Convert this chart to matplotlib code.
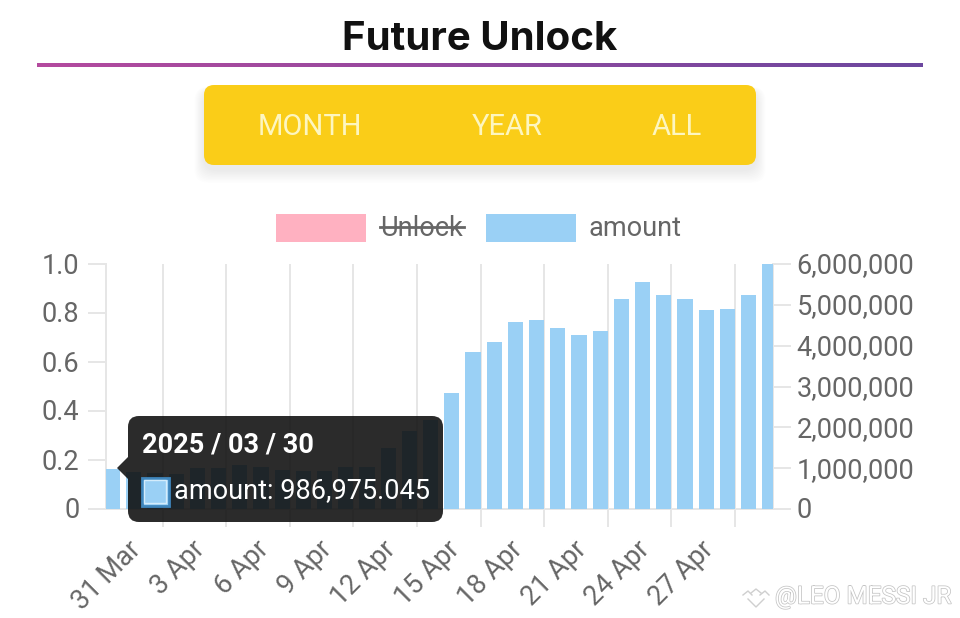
import numpy as np
import matplotlib
matplotlib.use('Agg')
import matplotlib.pyplot as plt
import matplotlib.patheffects as pe
from matplotlib.patches import FancyBboxPatch, Rectangle, Polygon
from matplotlib.transforms import ScaledTranslation

plt.rcParams['font.family'] = ['Roboto', 'DejaVu Sans']

# values
amount = [986975.045, 900000, 880000, 860000, 1010000, 1010000, 1070000, 1020000,
          960000, 940000, 940000, 1020000, 1040000, 1500000, 1910000, 2190000,
          2850000, 3850000, 4100000, 4570000, 4630000, 4440000, 4250000, 4350000,
          5140000, 5560000, 5250000, 5150000, 4870000, 4900000, 5250000, 6000000]
date_labels = ['31 Mar', '3 Apr', '6 Apr', '9 Apr', '12 Apr', '15 Apr', '18 Apr',
               '21 Apr', '24 Apr', '27 Apr']
left_ticks = [0, 0.2, 0.4, 0.6, 0.8, 1.0]
left_labels = ['0', '0.2', '0.4', '0.6', '0.8', '1.0']
right_ticks = [0, 1000000, 2000000, 3000000, 4000000, 5000000, 6000000]
buttons = ['MONTH', 'YEAR', 'ALL']

W, H = 960, 618
GRID = '#e6e6e6'
TEXT = '#666666'
BLUE = '#9AD0F5'
PINK = '#FFB1C1'
LABEL_SIZE = 19.5

fig = plt.figure(figsize=(W / 100, H / 100), dpi=100, facecolor='white')

# chart area
ax = fig.add_axes([106 / W, 1 - 509 / H, 667 / W, 245 / H])
ax2 = ax.twinx()
ax.set_zorder(1)
ax2.set_zorder(2)

x = np.arange(len(amount))
ax2.bar(x, amount, width=0.71, color=BLUE, zorder=3)
ax2.set_ylim(0, 6000000)
ax2.set_yticks(right_ticks)
ax2.set_yticklabels([f'{v:,}' for v in right_ticks])
ax2.tick_params(axis='y', length=13, width=1.4, color=GRID, labelcolor=TEXT,
                labelsize=LABEL_SIZE, pad=4)

ax.set_xlim(-0.31, 31.15)
ax.set_ylim(0, 1)
ax.set_yticks(left_ticks)
ax.set_yticklabels(left_labels)
ax.tick_params(axis='y', length=13, width=1.4, color=GRID, labelcolor=TEXT,
               labelsize=LABEL_SIZE, pad=6)

# gridlines sit on the right edge of every third bar
ticks = np.arange(len(date_labels)) * 3 + 2.36
ax.set_xticks(ticks)
ax.set_xticklabels(date_labels, rotation=45, ha='right', va='top', rotation_mode='anchor')
ax.tick_params(axis='x', length=13, width=1.4, color=GRID, labelcolor=TEXT,
               labelsize=LABEL_SIZE, pad=2)
ax.grid(axis='x', color=GRID, linewidth=1.4)
ax.set_axisbelow(True)
shift = ScaledTranslation(-35 / 100, -6 / 100, fig.dpi_scale_trans)
for lab in ax.get_xticklabels():
    lab.set_transform(lab.get_transform() + shift)
up = ScaledTranslation(0, 1 / 100, fig.dpi_scale_trans)
for lab in ax.get_yticklabels() + ax2.get_yticklabels():
    lab.set_transform(lab.get_transform() + up)

for a in (ax, ax2):
    a.spines['top'].set_visible(False)
    for name in ('left', 'right', 'bottom'):
        a.spines[name].set_color(GRID)
        a.spines[name].set_linewidth(1.4)

# everything around the chart, in pixel coordinates
over = fig.add_axes([0, 0, 1, 1], zorder=5)
over.set_xlim(0, W)
over.set_ylim(H, 0)
over.axis('off')

over.text(480, 39, 'Future Unlock', ha='center', va='center', fontsize=29,
          fontweight='bold', color='#111111', family=['Inter', 'DejaVu Sans'])

# title rule with the purple gradient
grad = np.linspace(0, 1, 256).reshape(1, -1)
cmap = matplotlib.colors.LinearSegmentedColormap.from_list('rule', ['#b44a9e', '#6c479f'])
over.imshow(grad, extent=(37, 923, 67.5, 64), cmap=cmap, aspect='auto', zorder=2)
over.set_xlim(0, W)
over.set_ylim(H, 0)

# button bar and its soft shadow
for i in range(10):
    grow = 16 - i * 1.6
    over.add_patch(FancyBboxPatch((204 - grow * 0.6, 90 - grow * 0.2), 552 + grow * 1.2, 80 + grow,
                                  boxstyle='round,pad=0,rounding_size=14',
                                  fc='black', ec='none', alpha=0.006, zorder=2))
over.add_patch(FancyBboxPatch((204, 85), 552, 80, boxstyle='round,pad=0,rounding_size=10',
                              fc='#FACD18', ec='none', zorder=3))
for name, cx in zip(buttons, [310, 507, 677]):
    over.text(cx, 127, name, ha='center', va='center', fontsize=21, color='#FDF6C0', zorder=4)

# legend
over.add_patch(Rectangle((276, 214), 90, 28, fc=PINK, ec='none'))
over.text(380, 228, 'Unlock', ha='left', va='center', fontsize=LABEL_SIZE, color=TEXT)
over.plot([380, 464], [227, 227], color=TEXT, lw=2)
over.add_patch(Rectangle((486, 214), 90, 28, fc=BLUE, ec='none'))
over.text(589, 228, 'amount', ha='left', va='center', fontsize=LABEL_SIZE, color=TEXT)

# tooltip
tip_color = (0.05, 0.05, 0.05, 0.88)
over.add_patch(FancyBboxPatch((128, 416), 315, 106, boxstyle='round,pad=0,rounding_size=11',
                              fc=tip_color, ec='none', zorder=6))
over.add_patch(Polygon([(128, 457), (117, 468), (128, 479)], fc=tip_color, ec='none', zorder=6))
over.text(142, 445, '2025 / 03 / 30', ha='left', va='center', fontsize=19.5, fontweight='bold',
          color='white', zorder=7)
over.add_patch(Rectangle((141.5, 477.5), 27, 28, fc=BLUE, ec='#3f86bd', lw=2, zorder=7))
over.add_patch(Rectangle((144, 480), 22, 23, fc='none', ec='#d4ecfb', lw=1, zorder=8))
over.text(174, 491, 'amount: 986,975.045', ha='left', va='center', fontsize=LABEL_SIZE,
          color='white', zorder=7)

# watermark
outline = [pe.withStroke(linewidth=1.1, foreground='#c4c4c4')]
over.text(775, 597, '@LEO MESSI JR', ha='left', va='center', fontsize=17.5, color='white',
          path_effects=outline, zorder=7)
for xs, ys in [([743, 748, 752], [595, 591, 595]), ([751, 756, 761], [593, 589, 593]),
               ([760, 765, 769], [595, 591, 595]), ([748, 756, 764], [599, 607, 599])]:
    over.plot(xs, ys, color='#cfcfcf', lw=1)

fig.savefig('out.png', dpi=100)
